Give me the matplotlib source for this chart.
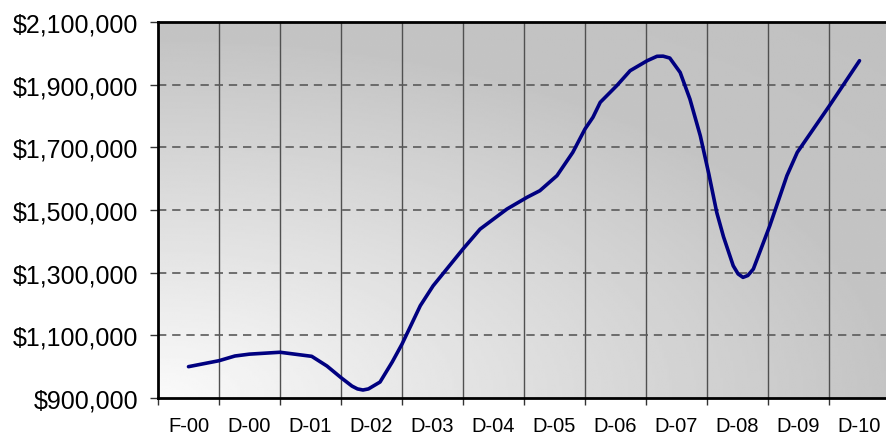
import numpy as np
import matplotlib.pyplot as plt
from matplotlib.ticker import FuncFormatter, FixedLocator

# tick labels (one per category slot)
labels = ['F-00', 'D-00', 'D-01', 'D-02', 'D-03', 'D-04',
          'D-05', 'D-06', 'D-07', 'D-08', 'D-09', 'D-10']

# curve: position in category units, value in $
pos = [0.0, 0.5, 0.76, 1.0, 1.5, 2.02, 2.27, 2.5, 2.68, 2.77, 2.86, 2.95,
       3.14, 3.34, 3.5, 3.8, 4.01, 4.5, 4.78, 5.22, 5.55, 5.76, 6.04, 6.3,
       6.5, 6.63, 6.75, 7.02, 7.24, 7.52, 7.68, 7.78, 7.89, 8.06, 8.22,
       8.39, 8.53, 8.66, 8.77, 8.93, 9.01, 9.09, 9.17, 9.26, 9.53, 9.81,
       9.98, 10.51, 11.0]
value = [1000000, 1019000, 1034000, 1040000, 1046000, 1033000, 1002000,
         965000, 938000, 929000, 925500, 929000, 951000, 1015000, 1072000,
         1194600, 1258000, 1375500, 1439000, 1503000, 1540500, 1561600,
         1609500, 1684000, 1758500, 1795800, 1843700, 1896700, 1944600,
         1976500, 1990500, 1991000, 1985000, 1939000, 1854000, 1737000,
         1615000, 1492000, 1415000, 1322000, 1296000, 1285000, 1291000,
         1311700, 1450000, 1609500, 1684000, 1833600, 1976500]

y_min, y_max, y_step = 900000, 2100000, 200000

plt.rcParams['font.family'] = ['Liberation Sans', 'DejaVu Sans']

fig = plt.figure(figsize=(8.86, 4.39), dpi=100)
ax = fig.add_axes([158/886, 40/439, 732/886, 376/439])

n = len(labels)
ax.set_xlim(-0.5, n - 0.5)
ax.set_ylim(y_min, y_max)

# background gradient, light in the lower left corner
gx, gy = np.meshgrid(np.linspace(0, 1, 300), np.linspace(0, 1, 200))
d = np.sqrt(gx**2 + (gy*1.05)**2)
shade = (250 - 54*np.clip(d, 0, 1) - 8*np.clip(d - 1, 0, 1)) / 255.0
ax.imshow(shade, cmap='gray', vmin=0, vmax=1, origin='lower', aspect='auto',
          extent=(-0.5, n - 0.5, y_min, y_max), zorder=0, interpolation='bilinear')

# grid
bounds = np.arange(n) + 0.5
for b in bounds[:-1]:
    ax.axvline(b, color='#505050', lw=1.0, zorder=1)
for yv in range(y_min + y_step, y_max, y_step):
    ax.axhline(yv, color='#5a5a5a', lw=1.2, ls=(0, (5, 3.5)), zorder=1)

ax.plot(pos, value, color='#000080', lw=2.6, solid_capstyle='round',
        solid_joinstyle='round', zorder=3)

# axes
ax.xaxis.set_major_locator(FixedLocator(list(np.arange(n) - 0.5)))
ax.xaxis.set_minor_locator(FixedLocator(list(range(n))))
ax.set_xticklabels([], minor=False)
ax.set_xticklabels(labels, minor=True)
ax.tick_params(axis='x', which='major', length=5, width=1, color='#333333')
ax.tick_params(axis='x', which='minor', length=0, pad=13, labelsize=14.5)

ax.set_yticks(range(y_min, y_max + 1, y_step))
ax.yaxis.set_major_formatter(FuncFormatter(lambda v, p: '${:,.0f}'.format(v)))
ax.tick_params(axis='y', length=6, width=1, color='#333333', pad=8, labelsize=18)

for s in ['left', 'bottom', 'top']:
    ax.spines[s].set_linewidth(2)
    ax.spines[s].set_color('black')
ax.spines['right'].set_visible(False)

fig.savefig('out.png', dpi=100)
